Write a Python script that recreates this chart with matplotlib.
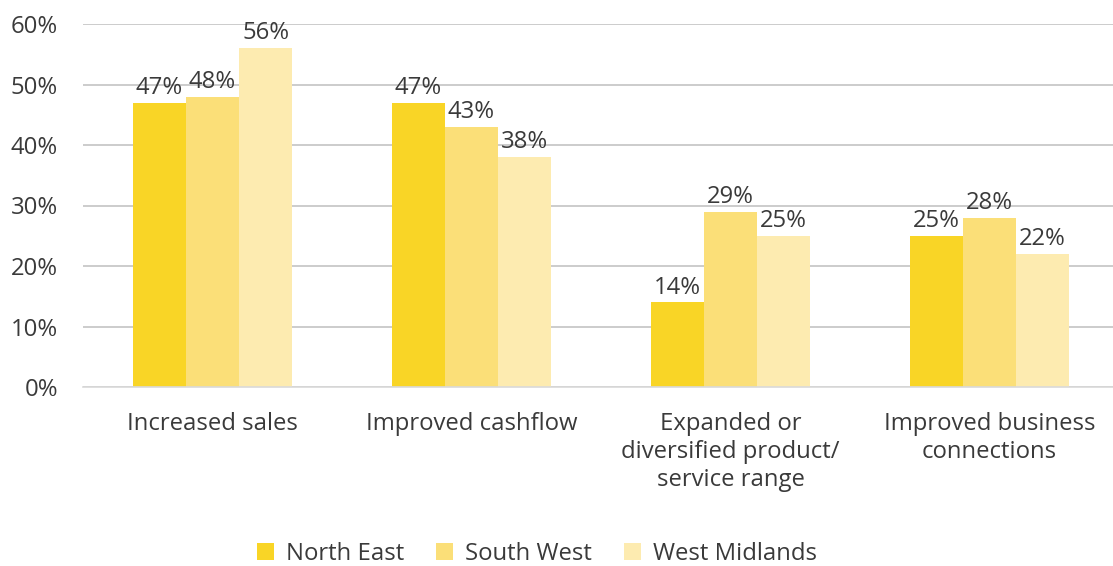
import matplotlib.pyplot as plt
import numpy as np

plt.rcParams['font.family'] = ['Open Sans', 'DejaVu Sans']

categories = ["Increased sales", "Improved cashflow",
              "Expanded or\ndiversified product/\nservice range",
              "Improved business\nconnections"]
regions = ["North East", "South West", "West Midlands"]
north_east = [47, 47, 14, 25]
south_west = [48, 43, 29, 28]
west_midlands = [56, 38, 25, 22]
colors = ["#F9D526", "#FBDF78", "#FDEBB0"]

text_col = "#3A3A3A"
fs = 17.2
fig = plt.figure(figsize=(11.13, 5.66), dpi=100)
ax = fig.add_axes([83 / 1113, 1 - 387 / 566, 1 - 83 / 1113, (387 - 24) / 566])

x = np.arange(len(categories))
w = 0.205
for i, (vals, name) in enumerate(zip([north_east, south_west, west_midlands], regions)):
    bars = ax.bar(x + (i - 1) * w, vals, w, color=colors[i], label=name, zorder=2)
    for b, v in zip(bars, vals):
        ax.annotate(f"{v}%", (b.get_x() + b.get_width() / 2, v), xytext=(0, 2),
                    textcoords="offset points", ha="center", va="bottom",
                    fontsize=fs, color=text_col)

ax.set_xlim(-0.5, 3.477)
ax.set_ylim(0, 60)
ax.set_yticks(range(0, 61, 10))
ax.set_yticklabels([f"{t}%" for t in range(0, 61, 10)])
ax.yaxis.grid(True, color="#C4C4C4", linewidth=1.2, zorder=0)
ax.set_axisbelow(True)
ax.set_xticks(x)
ax.set_xticklabels(categories, linespacing=1.22)
ax.tick_params(axis="both", length=0, labelsize=fs, labelcolor=text_col)
ax.tick_params(axis="x", pad=18)
ax.tick_params(axis="y", pad=18)
for s in ["top", "right", "left"]:
    ax.spines[s].set_visible(False)
ax.spines["bottom"].set_color("#D9D9D9")
ax.spines["bottom"].set_linewidth(1.2)

fig.legend(loc="center", bbox_to_anchor=(537 / 1113, 1 - 554 / 566), ncol=3,
           frameon=False, fontsize=fs, handlelength=0.7, handleheight=0.75,
           handletextpad=0.5, columnspacing=1.35, labelcolor=text_col)

fig.savefig("out.png", dpi=100)
